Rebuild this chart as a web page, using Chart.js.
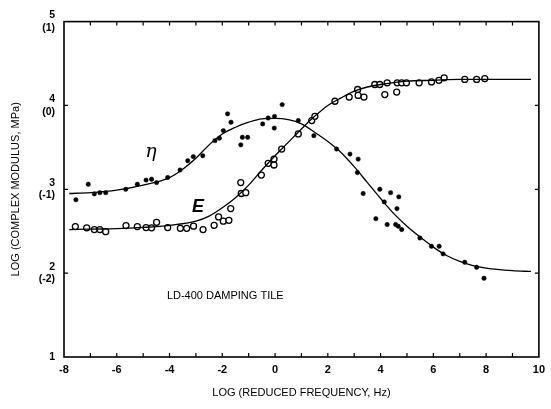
<!DOCTYPE html>
<html>
<head>
<meta charset="utf-8">
<script src="https://cdn.jsdelivr.net/npm/chart.js@4.4.1/dist/chart.umd.min.js"></script>
<style>
  html, body { margin: 0; padding: 0; background: #fff; }
  #wrap { width: 551px; height: 409px; position: relative; }
</style>
</head>
<body>
<div id="wrap"><canvas id="c"></canvas></div>
<script>
// Loss factor (eta) measurements: log reduced frequency vs log value
const etaFreq = [-7.55, -7.08, -6.85, -6.64, -6.42, -5.66, -5.22, -4.89, -4.68, -4.49, -4.07, -3.60, -3.31, -3.10, -2.74,
  -2.28, -2.11, -1.96, -1.80, -1.67, -1.30, -1.24, -1.04, -0.47, -0.26, -0.02, -0.03, 0.27, 0.88, 1.47, 2.33, 2.84,
  3.15, 3.12, 3.34, 3.97, 4.38, 4.69, 4.62, 4.14, 3.82, 4.25, 4.57, 4.67, 4.80, 5.49, 5.93, 6.22, 6.37, 7.19, 7.64, 7.92];
const etaVals = [2.875, 3.06, 2.945, 2.96, 2.96, 3.00, 3.06, 3.11, 3.12, 3.08, 3.14, 3.23, 3.34, 3.39, 3.40,
  3.58, 3.61, 3.70, 3.90, 3.80, 3.53, 3.62, 3.62, 3.78, 3.85, 3.87, 3.73, 4.01, 3.82, 3.64, 3.48, 3.42,
  3.36, 3.20, 2.95, 3.00, 2.96, 2.91, 2.77, 2.85, 2.65, 2.58, 2.58, 2.56, 2.52, 2.42, 2.32, 2.32, 2.23, 2.13, 2.07, 1.94];

// Storage modulus (E) measurements
const modFreq = [-7.57, -7.14, -6.85, -6.64, -6.42, -5.65, -5.22, -4.89, -4.68, -4.49, -4.07, -3.59, -3.35, -3.09, -2.73,
  -2.31, -2.14, -1.96, -1.75, -1.68, -1.30, -1.28, -1.11, -0.52, -0.26, -0.04, -0.04, 0.25, 0.88, 1.39, 1.51, 2.27,
  2.81, 3.13, 3.15, 3.37, 3.78, 3.97, 4.16, 4.25, 4.61, 4.63, 4.80, 4.98, 5.46, 5.93, 6.21, 6.41, 7.19, 7.64, 7.95];
const modVals = [2.556, 2.54, 2.52, 2.52, 2.495, 2.567, 2.556, 2.544, 2.54, 2.606, 2.544, 2.535, 2.535, 2.56, 2.52,
  2.57, 2.67, 2.62, 2.63, 2.77, 3.08, 2.95, 2.96, 3.17, 3.31, 3.36, 3.29, 3.48, 3.66, 3.82, 3.87, 4.05,
  4.10, 4.19, 4.12, 4.10, 4.25, 4.25, 4.13, 4.27, 4.16, 4.27, 4.27, 4.27, 4.27, 4.28, 4.30, 4.33, 4.31, 4.31, 4.32];

// Fitted master curves
const etaCurveFreq = [-7.8, -7, -6, -5, -4, -3.5, -3, -2.5, -2, -1.5, -1, -0.5, 0, 0.5, 1, 1.5, 2, 2.5, 3, 3.5, 4, 4.5, 5, 5.5, 6, 6.5, 7, 7.5, 8, 9, 9.7];
const etaCurveVals = [2.95, 2.96, 2.99, 3.05, 3.14, 3.24, 3.37, 3.53, 3.66, 3.74, 3.80, 3.84, 3.845, 3.83, 3.78, 3.68, 3.57, 3.44, 3.27, 3.08, 2.89, 2.71, 2.56, 2.43, 2.31, 2.21, 2.14, 2.09, 2.06, 2.03, 2.02];
const modCurveFreq = [-7.8, -7, -6, -5, -4, -3, -2.5, -2, -1.5, -1, -0.5, 0, 0.5, 1, 1.5, 2, 2.5, 3, 3.5, 4, 5, 6, 7, 8, 9.7];
const modCurveVals = [2.52, 2.525, 2.53, 2.545, 2.57, 2.62, 2.68, 2.78, 2.90, 3.05, 3.23, 3.40, 3.56, 3.72, 3.87, 4.00, 4.09, 4.17, 4.22, 4.25, 4.29, 4.30, 4.31, 4.31, 4.31];

// Axis tick labels: log modulus (MPa units in brackets)
const yTickMain = {1: '1', 2: '2', 3: '3', 4: '4', 5: '5'};
const yTickSub = {1: '', 2: '(-2)', 3: '(-1)', 4: '(0)', 5: '(1)'};
const xTickLabels = {'-8': '-8', '-6': '-6', '-4': '-4', '-2': '-2', '0': '0', '2': '2', '4': '4', '6': '6', '8': '8', '10': '10'};

const pairs = (xs, ys) => xs.map((x, i) => ({x: x, y: ys[i]}));
const FONT = "'Liberation Sans', Arial, sans-serif";

// Box frame, inward tick marks and in-plot annotations
const framePlugin = {
  id: 'frame',
  afterDraw(chart) {
    const {ctx, chartArea: a, scales: {x, y}} = chart;
    ctx.save();
    ctx.strokeStyle = '#000';
    ctx.lineWidth = 1.6;
    ctx.strokeRect(a.left, a.top, a.right - a.left, a.bottom - a.top);
    ctx.lineWidth = 1.2;
    ctx.beginPath();
    for (let v = -7; v <= 9; v++) {
      const px = x.getPixelForValue(v);
      ctx.moveTo(px, a.bottom); ctx.lineTo(px, a.bottom - 4);
      ctx.moveTo(px, a.top); ctx.lineTo(px, a.top + 4);
    }
    for (let v = 2; v <= 4; v++) {
      const py = y.getPixelForValue(v);
      ctx.moveTo(a.left, py); ctx.lineTo(a.left + 4, py);
      ctx.moveTo(a.right, py); ctx.lineTo(a.right - 4, py);
    }
    ctx.stroke();

    ctx.fillStyle = '#000';
    ctx.textBaseline = 'alphabetic';
    ctx.textAlign = 'center';
    ctx.font = "italic 19px 'DejaVu Serif', 'Liberation Serif', serif";
    ctx.fillText('\u03B7', x.getPixelForValue(-4.70), y.getPixelForValue(3.39));
    ctx.font = "italic bold 18px " + FONT;
    ctx.fillText('E', x.getPixelForValue(-2.92), y.getPixelForValue(2.73));
    ctx.textAlign = 'left';
    ctx.textBaseline = 'middle';
    ctx.font = "11px " + FONT;
    ctx.fillText('LD-400 DAMPING TILE', x.getPixelForValue(-4.10), y.getPixelForValue(1.725));
    ctx.restore();
  }
};

new Chart(document.getElementById('c'), {
  type: 'scatter',
  data: {
    datasets: [
      {
        type: 'line', data: pairs(etaCurveFreq, etaCurveVals), borderColor: '#000', borderWidth: 1.3,
        pointRadius: 0, cubicInterpolationMode: 'monotone', fill: false
      },
      {
        type: 'line', data: pairs(modCurveFreq, modCurveVals), borderColor: '#000', borderWidth: 1.3,
        pointRadius: 0, cubicInterpolationMode: 'monotone', fill: false
      },
      {
        data: pairs(etaFreq, etaVals), pointRadius: 2.2, pointBackgroundColor: '#000',
        pointBorderColor: '#000', pointBorderWidth: 0.5
      },
      {
        data: pairs(modFreq, modVals), pointRadius: 3, pointBackgroundColor: '#fff',
        pointBorderColor: '#000', pointBorderWidth: 1.3
      }
    ]
  },
  options: {
    responsive: true,
    maintainAspectRatio: false,
    animation: false,
    events: [],
    layout: {padding: {top: 15, right: 12, left: 0, bottom: 0}},
    plugins: {legend: {display: false}, tooltip: {enabled: false}},
    scales: {
      x: {
        type: 'linear', min: -8, max: 10,
        afterFit(s) { s.height = 52; },
        grid: {display: false, drawTicks: false},
        border: {display: false},
        ticks: {
          stepSize: 1, autoSkip: false, maxRotation: 0, padding: 6, color: '#000',
          font: {family: FONT, size: 11, weight: 'bold'},
          callback: (v) => xTickLabels[String(v)] || ''
        },
        title: {
          display: true, text: 'LOG (REDUCED FREQUENCY, Hz)', color: '#000',
          font: {family: FONT, size: 11}, padding: {top: 0, bottom: 9}
        }
      },
      y: {
        type: 'linear', min: 1, max: 5,
        afterFit(s) { s.width = 64; },
        grid: {display: false, drawTicks: false},
        border: {display: false},
        ticks: {
          stepSize: 1, padding: 9, color: '#000', crossAlign: 'near',
          font: {family: FONT, size: 10.5, weight: 'bold'},
          callback: (v) => yTickSub[v] ? [yTickMain[v], yTickSub[v]] : (yTickMain[v] || '')
        },
        title: {
          display: true, text: 'LOG (COMPLEX MODULUS, MPa)', color: '#000',
          font: {family: FONT, size: 11}, padding: {top: 9, bottom: 0}
        }
      }
    }
  },
  plugins: [framePlugin]
});
</script>
</body>
</html>
